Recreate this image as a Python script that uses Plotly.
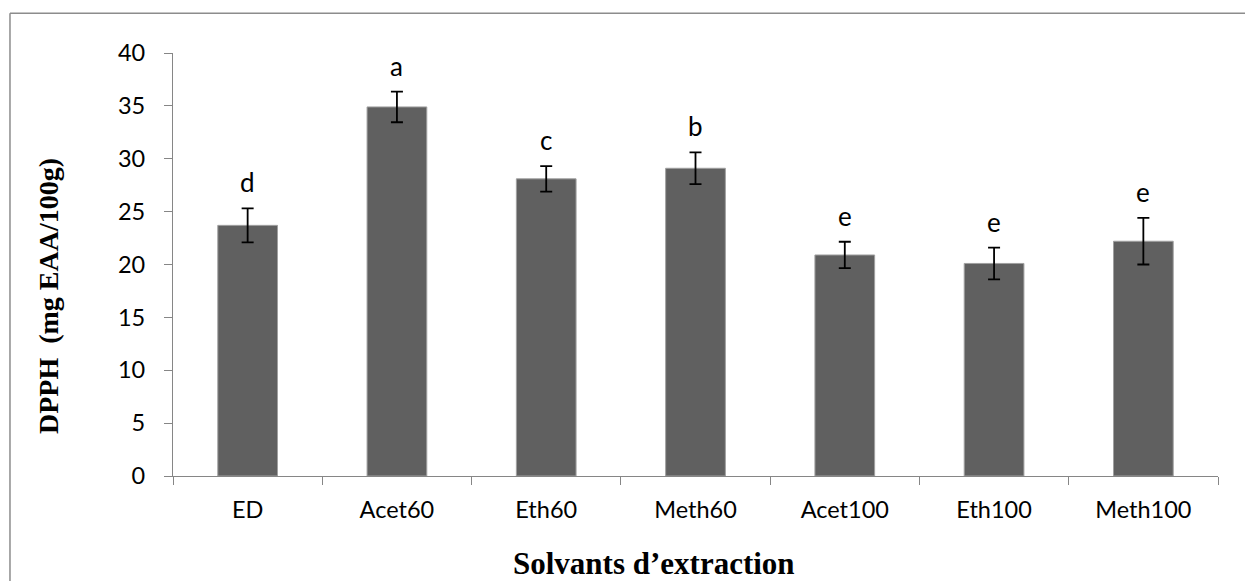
import plotly.graph_objects as go

# DPPH antioxidant activity per extraction solvent
solvents = ["ED", "Acet60", "Eth60", "Meth60", "Acet100", "Eth100", "Meth100"]
dpph = [23.7, 34.9, 28.1, 29.1, 20.9, 20.1, 22.2]
dpph_sd = [1.6, 1.45, 1.2, 1.5, 1.25, 1.5, 2.2]
groups = ["d", "a", "c", "b", "e", "e", "e"]

tick_font = dict(family="Lato, 'Open Sans', sans-serif", size=23.5, color="#000000")
letter_font = dict(tick_font, size=26)
axis_gray = "#868686"

fig = go.Figure()
fig.add_trace(go.Bar(
    x=solvents,
    y=dpph,
    marker=dict(color="#606060", line=dict(color="#a0a0a0", width=1)),
    error_y=dict(type="data", array=dpph_sd, visible=True,
                 color="#000000", thickness=1.8, width=6),
    showlegend=False,
))

# significance letters above each error bar
for s, v, e, g in zip(solvents, dpph, dpph_sd, groups):
    fig.add_annotation(x=s, y=v + e, text=g, showarrow=False,
                       xref="x", yref="y", yanchor="bottom", yshift=8,
                       font=letter_font)

# axis titles
title_font = dict(family="'Liberation Serif', 'Times New Roman', serif",
                  size=28, color="#000000")
fig.add_annotation(text="<b>DPPH \u00a0(mg EAA/100g)</b>", textangle=-90,
                   xref="paper", yref="paper", x=-0.1196, y=0.4255,
                   xanchor="center", yanchor="middle", showarrow=False,
                   font=title_font)
fig.add_annotation(text="<b>Solvants d\u2019extraction</b>",
                   xref="paper", yref="paper", x=0.4603, y=-0.208,
                   xanchor="center", yanchor="middle", showarrow=False,
                   font=dict(title_font, size=31))

# outer frame of the chart area
frame = dict(color="#8c8c8c", width=1.5)
fig.add_shape(type="line", xref="paper", yref="paper",
              x0=-0.156, y0=-0.6, x1=-0.156, y1=1.0938, line=frame)
fig.add_shape(type="line", xref="paper", yref="paper",
              x0=-0.156, y0=1.0938, x1=1.2, y1=1.0938, line=frame)

fig.update_layout(
    width=1245, height=581,
    margin=dict(l=173, r=27, t=53, b=105),
    paper_bgcolor="#ffffff", plot_bgcolor="#ffffff",
    bargap=0.6,
)
fig.update_xaxes(
    showline=True, linecolor=axis_gray, linewidth=1.2,
    ticks="outside", tickson="boundaries", ticklen=8, tickcolor=axis_gray,
    tickwidth=1.2, tickfont=tick_font, ticklabelstandoff=13,
    showgrid=False, zeroline=False,
)
fig.update_yaxes(
    range=[0, 40], dtick=5, showline=True, linecolor=axis_gray, linewidth=1.2,
    ticks="outside", ticklen=8, tickcolor=axis_gray, tickwidth=1.2,
    tickfont=tick_font, ticklabelstandoff=14,
    showgrid=False, zeroline=False,
)

fig.write_html("out.html")
